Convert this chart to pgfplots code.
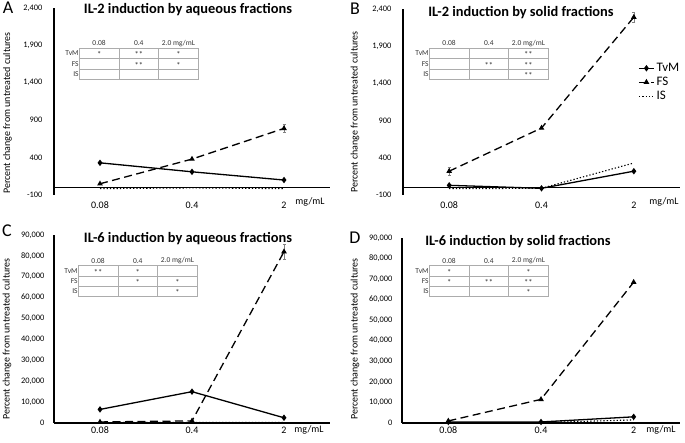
\documentclass[border=0pt]{standalone}
\usepackage{pgfplots}
\pgfplotsset{compat=1.18}
\usepackage{fontspec}
\setmainfont{Carlito}

\newcommand\sigtable[3]{%
\begin{scope}[shift={(#1pt,443pt-#2pt)}, font=\fontsize{7.5}{8}\selectfont, text=black!80]
 \draw[gray!65, line width=0.5pt] (0,0) rectangle (119pt,-31pt);
 \draw[gray!65, line width=0.5pt] (0,-10.33pt) -- (119pt,-10.33pt) (0,-20.67pt)--(119pt,-20.67pt)
   (39.67pt,0)--(39.67pt,-31pt) (79.33pt,0)--(79.33pt,-31pt);
 \node[anchor=east, inner sep=0.5pt] at (0,-5.17pt) {TvM};
 \node[anchor=east, inner sep=0.5pt] at (0,-15.5pt) {FS};
 \node[anchor=east, inner sep=0.5pt] at (0,-25.83pt) {IS};
 \node[inner sep=0] at (19.83pt,5pt) {0.08};
 \node[inner sep=0] at (59.5pt,5pt) {0.4};
 \node[inner sep=0] at (99.17pt,5pt) {2.0 mg/mL};
 \foreach \c/\r/\t in {#3}{\node[inner sep=0, font=\fontsize{8.5}{9}\selectfont] at ({(\c-0.5)*39.67pt},{-(\r-0.5)*10.33pt-1.3pt}) {\t};}
\end{scope}}

\pgfplotsset{
 panel/.style={
  scale only axis, width=276pt,
  axis lines*=left,
  x axis line style={draw=none},
  y axis line style={line width=1.5pt},
  major tick length=0pt,
  xmin=-0.5, xmax=2.5, xtick={0,1,2}, xticklabels={0.08,0.4,2},
  xticklabel style={font=\fontsize{10}{12}\selectfont},
  yticklabel style={font=\fontsize{8.4}{10}\selectfont},
  /pgf/number format/assume math mode=true,
  /pgf/number format/1000 sep={,},
  scaled y ticks=false,
  clip=false,
  every axis plot/.append style={line width=1.3pt},
 },
 il2/.style={ymin=-100, ymax=2400, ytick={-100,400,900,1400,1900,2400},
  extra y ticks={0}, extra y tick labels={},
  extra y tick style={grid=major, major grid style={black, line width=1.5pt}},
  xticklabel style={yshift=-3pt}, yticklabel style={xshift=-8pt}},
 il6/.style={ymin=0, ymax=90000, ytick={0,10000,...,90000},
  extra y ticks={0}, extra y tick labels={},
  extra y tick style={grid=major, major grid style={black, line width=1.5pt}},
  xticklabel style={yshift=0pt}, yticklabel style={xshift=-6pt}},
 tvm/.style={black, solid, mark=diamond*, mark size=2.2pt, mark options={solid}},
 fs/.style={black, dash pattern=on 8pt off 4.5pt, mark=triangle*, mark size=2pt, mark options={solid}},
 is/.style={black, dotted, line width=1.1pt, no marks},
 eb/.style={error bars/.cd, y dir=both, y explicit, error bar style={gray, line width=0.5pt}, error mark options={gray, rotate=90, mark size=1.5pt}},
}

\begin{document}
\begin{tikzpicture}
\useasboundingbox (0,0) rectangle (685pt,443pt);

% Panel A
\begin{axis}[panel, il2, at={(54pt,248pt)}, anchor=south west, height=187pt]
\addplot[tvm] coordinates {(0,330) (1,210) (2,100)};
\addplot[fs, eb] coordinates {(0,50) (1,380) (2,790) +- (0,55)};
\addplot[is] coordinates {(0,-15) (1,-5) (2,-15)};
\end{axis}

% Panel B
\begin{axis}[panel, il2, at={(403pt,248pt)}, anchor=south west, height=186pt, width=277pt,
  legend style={at={(0.845,0.725)}, anchor=north west, draw=none, fill=none,
   font=\fontsize{13}{15}\selectfont, row sep=0pt, inner sep=1pt},
  legend cell align=left,
  legend image code/.code={\draw[#1] (0pt,0pt) -- (15pt,0pt); \draw[#1, solid] plot coordinates {(7.5pt,0pt)};}]
\addplot[tvm] coordinates {(0,30) (1,-10) (2,220)};
\addlegendentry{TvM}
\addplot[fs, eb] coordinates {(0,220) +- (0,60) (1,800) (2,2290) +- (0,70)};
\addlegendentry{FS}
\addplot[is] coordinates {(0,-15) (1,-10) (2,330)};
\addlegendentry{IS}
\end{axis}

% Panel C
\begin{axis}[panel, il6, at={(54pt,20pt)}, anchor=south west, height=188pt]
\addplot[tvm] coordinates {(0,6500) (1,15000) (2,2500)};
\addplot[fs, eb] coordinates {(0,500) (1,1000) (2,82000) +- (0,3500)};
\addplot[is] coordinates {(0,200) (1,300) (2,300)};
\end{axis}

% Panel D
\begin{axis}[panel, il6, at={(402pt,20pt)}, anchor=south west, height=185pt, width=278pt]
\addplot[tvm] coordinates {(0,500) (1,500) (2,3000)};
\addplot[fs] coordinates {(0,1000) (1,11500) (2,68500)};
\addplot[is] coordinates {(0,200) (1,200) (2,1500)};
\end{axis}

% titles
\begin{scope}[font=\fontsize{14.4}{16}\selectfont\bfseries]
\node at (188pt,443pt-10pt) {IL-2 induction by aqueous fractions};
\node at (521pt,443pt-12.5pt) {IL-2 induction by solid fractions};
\node at (188pt,443pt-239pt) {IL-6 induction by aqueous fractions};
\node at (518pt,443pt-241.5pt) {IL-6 induction by solid fractions};
\end{scope}
% panel letters
\begin{scope}[font=\fontsize{18}{20}\selectfont]
\node at (8pt,443pt-8pt) {A};
\node at (355pt,443pt-9pt) {B};
\node at (7pt,443pt-231pt) {C};
\node at (355pt,443pt-237.5pt) {D};
\end{scope}
% y labels
\begin{scope}[font=\fontsize{10}{12}\selectfont]
\node[rotate=90] at (7.5pt,443pt-113pt) {Percent change from untreated cultures};
\node[rotate=90] at (355pt,443pt-112pt) {Percent change from untreated cultures};
\node[rotate=90] at (7pt,443pt-339pt) {Percent change from untreated cultures};
\node[rotate=90] at (355pt,443pt-339pt) {Percent change from untreated cultures};
\end{scope}
% mg/mL
\begin{scope}[font=\fontsize{10}{12}\selectfont]
\node at (310pt,443pt-202pt) {mg/mL};
\node at (664pt,443pt-202pt) {mg/mL};
\node at (309pt,443pt-430pt) {mg/mL};
\node at (661pt,443pt-430pt) {mg/mL};
\end{scope}
% significance tables
\sigtable{79.3}{48.3}{1/1/*,2/1/**,3/1/*,2/2/**,3/2/*}
\sigtable{429.3}{48.3}{3/1/**,2/2/**,3/2/**,3/3/**}
\sigtable{78.3}{265.7}{1/1/**,2/1/*,2/2/*,3/2/*,3/3/*}
\sigtable{429.3}{265.7}{1/1/*,3/1/*,1/2/*,2/2/**,3/2/**,3/3/*}
\end{tikzpicture}
\end{document}
